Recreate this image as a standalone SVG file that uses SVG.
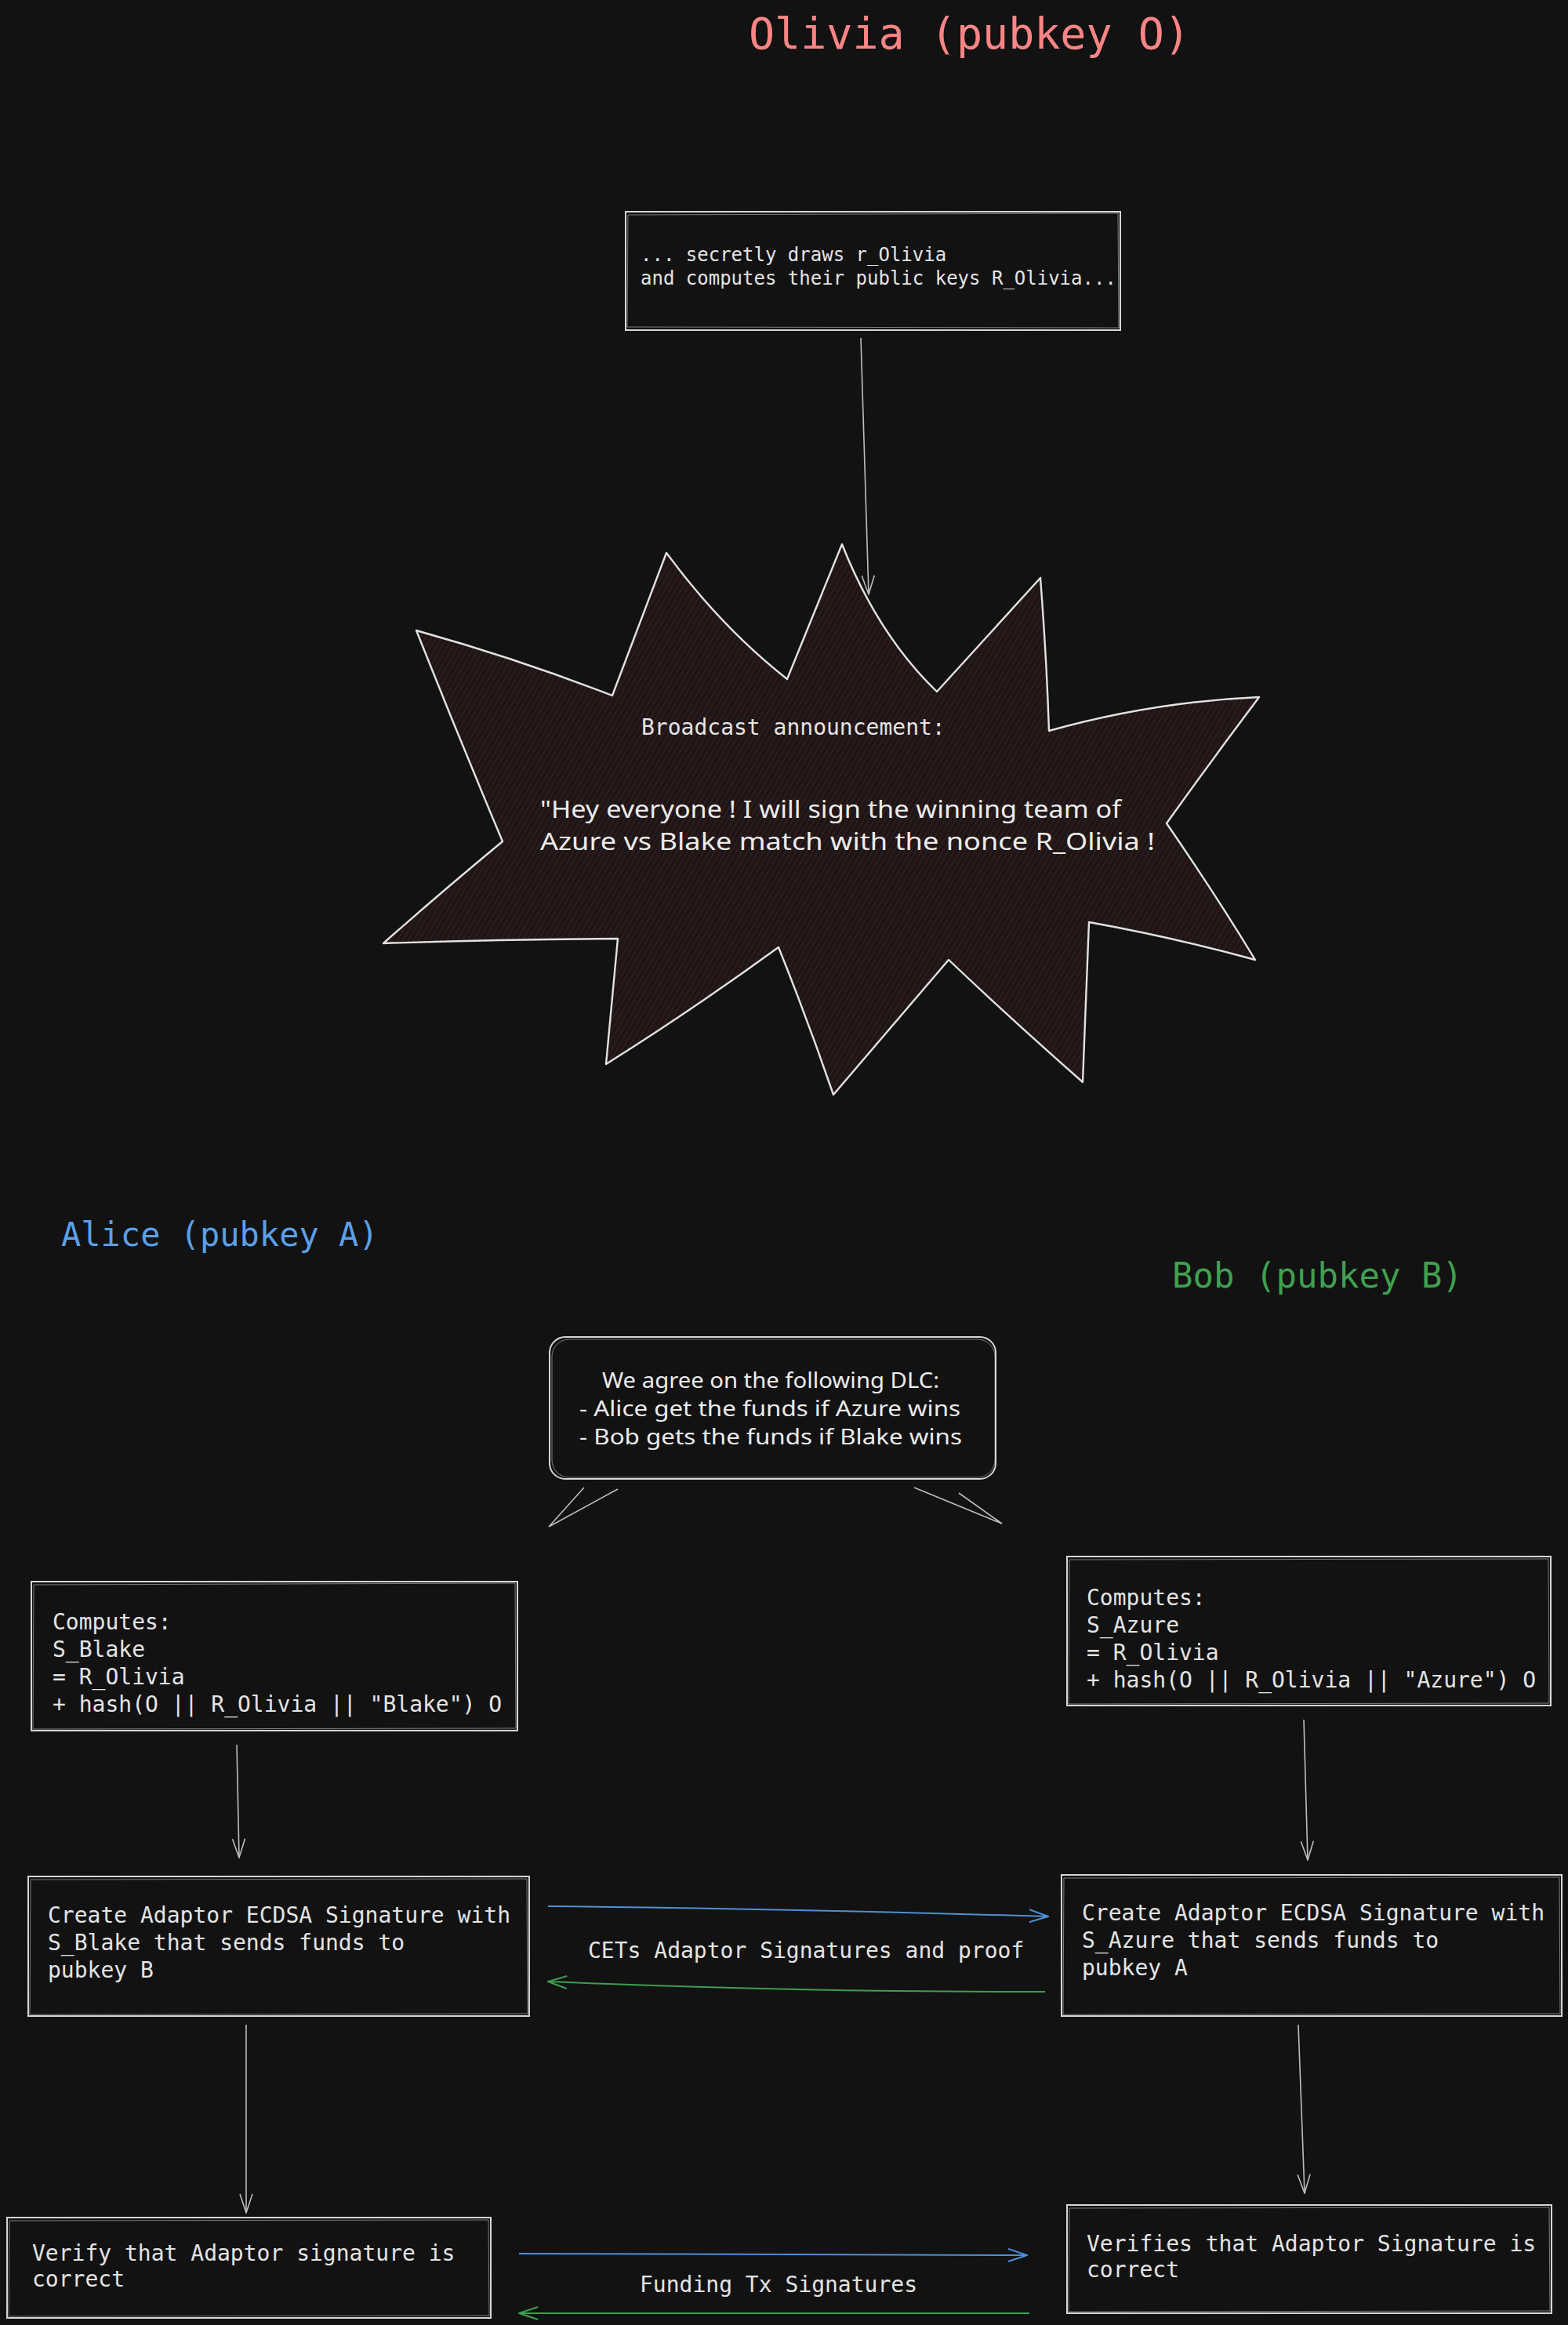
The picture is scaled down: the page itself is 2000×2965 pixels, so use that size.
<svg xmlns="http://www.w3.org/2000/svg" width="2000" height="2965" viewBox="0 0 2000 2965">
<defs>
<style>
.bx{fill:#121212;stroke:#d6d6d6;stroke-width:2}
.bx2{fill:none;stroke:#d6d6d6;stroke-width:1;opacity:0.55}
.mono{font-family:"DejaVu Sans Mono","Liberation Mono",monospace;fill:#e4e4e4}
.hand{font-family:"Noto Sans","Open Sans",sans-serif;fill:#ececec}
.conn{fill:none;stroke:#bdbdbd;stroke-width:1.6}
.blue{fill:none;stroke:#4f8fd6;stroke-width:2}
.green{fill:none;stroke:#3e9e4f;stroke-width:2}
</style>
<marker id="ahg" viewBox="0 0 26 18" refX="25" refY="9" markerWidth="26" markerHeight="18" markerUnits="userSpaceOnUse" orient="auto"><path d="M1,1 L25,9 L1,17" fill="none" stroke="#bdbdbd" stroke-width="1.6"/></marker>
<marker id="ahb" viewBox="0 0 26 18" refX="25" refY="9" markerWidth="26" markerHeight="18" markerUnits="userSpaceOnUse" orient="auto"><path d="M1,1 L25,9 L1,17" fill="none" stroke="#4f8fd6" stroke-width="2"/></marker>
<marker id="ahgr" viewBox="0 0 26 18" refX="25" refY="9" markerWidth="26" markerHeight="18" markerUnits="userSpaceOnUse" orient="auto"><path d="M1,1 L25,9 L1,17" fill="none" stroke="#3e9e4f" stroke-width="2"/></marker>
<pattern id="hatch" width="6" height="6" patternUnits="userSpaceOnUse" patternTransform="rotate(30)">
<rect width="6" height="6" fill="#1e1616"/>
<line x1="0" y1="0" x2="0" y2="6" stroke="#4a2424" stroke-width="1.4"/>
</pattern>
</defs>
<rect width="2000" height="2965" fill="#121212"/>

<g id="title-olivia"><text x="955" y="62" font-family="DejaVu Sans Mono, Liberation Mono, monospace" font-size="55" fill="#ff8585">Olivia (pubkey O)</text></g>
<g id="title-alice"><text x="78" y="1589" font-family="DejaVu Sans Mono, Liberation Mono, monospace" font-size="42" fill="#5ba0e8">Alice (pubkey A)</text></g>
<g id="title-bob"><text x="1495" y="1642" font-family="DejaVu Sans Mono, Liberation Mono, monospace" font-size="44" fill="#40a04f">Bob (pubkey B)</text></g>

<g id="connectors">
<path class="conn" d="M1098,431 Q1103,600 1108,758" marker-end="url(#ahg)"/>
<path class="conn" d="M302,2225 L305,2369" marker-end="url(#ahg)"/>
<path class="conn" d="M1663,2193 L1668,2372" marker-end="url(#ahg)"/>
<path class="conn" d="M314,2582 L314,2822" marker-end="url(#ahg)"/>
<path class="conn" d="M1656,2582 L1664,2797" marker-end="url(#ahg)"/>
<path class="blue" d="M699,2431 Q1000,2434 1337,2444" marker-end="url(#ahb)"/>
<path class="green" d="M1333,2540 Q1000,2540 699,2527" marker-end="url(#ahgr)"/>
<path class="blue" d="M662,2874 L1310,2876" marker-end="url(#ahb)"/>
<path class="green" d="M1313,2950 L662,2950" marker-end="url(#ahgr)"/>
<text class="mono" x="750" y="2497" font-size="28">CETs Adaptor Signatures and proof</text>
<text class="mono" x="816" y="2923" font-size="28">Funding Tx Signatures</text>
</g>

<g id="olivia-secret">
<rect class="bx" x="798" y="270" width="631" height="151"/>
<path class="bx2" d="M801,274 L1426,272 L1427,418 L800,417 Z"/>
<text class="mono" font-size="24" xml:space="preserve"><tspan x="817" y="333">... secretly draws r_Olivia</tspan><tspan x="817" y="363">and computes their public keys R_Olivia...</tspan></text>
</g>

<g id="broadcast">
<path d="M531,804 Q660,840 781,887 L850,705 Q920,800 1004,866 L1074,694 Q1120,810 1195,882 L1327,737 Q1335,840 1338,932 Q1470,895 1606,889 Q1545,970 1488,1050 Q1550,1140 1601,1224 Q1495,1195 1389,1176 L1381,1380 Q1290,1300 1210,1224 L1063,1396 Q1030,1300 993,1208 Q880,1290 773,1357 L788,1197 Q640,1198 489,1203 Q560,1140 641,1073 Q585,940 531,804 Z" fill="url(#hatch)" stroke="#e2e2e2" stroke-width="2.4" stroke-linejoin="round"/>
<text class="mono" x="818" y="937" font-size="28">Broadcast announcement:</text>
<text class="hand" font-size="30"><tspan x="689" y="1043" textLength="741" lengthAdjust="spacingAndGlyphs">"Hey everyone ! I will sign the winning team of</tspan><tspan x="689" y="1084" textLength="784" lengthAdjust="spacingAndGlyphs">Azure vs Blake match with the nonce R_Olivia !</tspan></text>
</g>

<g id="dlc-bubble">
<rect class="bx" x="701" y="1705" width="569" height="181" rx="20"/>
<rect class="bx2" x="704" y="1708" width="565" height="176" rx="22"/>
<path class="conn" d="M745,1897 L700,1947 L788,1899"/>
<path class="conn" d="M1166,1897 L1278,1943 L1223,1904"/>
<text class="hand" font-size="28"><tspan x="768" y="1770" textLength="430" lengthAdjust="spacingAndGlyphs">We agree on the following DLC:</tspan><tspan x="739" y="1806" textLength="486" lengthAdjust="spacingAndGlyphs">- Alice get the funds if Azure wins</tspan><tspan x="739" y="1842" textLength="488" lengthAdjust="spacingAndGlyphs">- Bob gets the funds if Blake wins</tspan></text>
</g>

<g id="alice-computes">
<rect class="bx" x="40" y="2017" width="620" height="190"/>
<path class="bx2" d="M43,2021 L657,2019 L658,2204 L42,2205 Z"/>
<text class="mono" font-size="28" xml:space="preserve"><tspan x="67" y="2078">Computes:</tspan><tspan x="67" y="2113">S_Blake</tspan><tspan x="67" y="2148">= R_Olivia</tspan><tspan x="67" y="2183">+ hash(O || R_Olivia || "Blake") O</tspan></text>
</g>

<g id="bob-computes">
<rect class="bx" x="1361" y="1985" width="617" height="190"/>
<path class="bx2" d="M1364,1989 L1975,1988 L1976,2172 L1363,2173 Z"/>
<text class="mono" font-size="28" xml:space="preserve"><tspan x="1386" y="2047">Computes:</tspan><tspan x="1386" y="2082">S_Azure</tspan><tspan x="1386" y="2117">= R_Olivia</tspan><tspan x="1386" y="2152">+ hash(O || R_Olivia || "Azure") O</tspan></text>
</g>

<g id="alice-create">
<rect class="bx" x="36" y="2393" width="639" height="178"/>
<path class="bx2" d="M39,2397 L672,2396 L673,2568 L38,2569 Z"/>
<text class="mono" font-size="28"><tspan x="61" y="2452">Create Adaptor ECDSA Signature with</tspan><tspan x="61" y="2487">S_Blake that sends funds to</tspan><tspan x="61" y="2522">pubkey B</tspan></text>
</g>

<g id="bob-create">
<rect class="bx" x="1354" y="2391" width="638" height="180"/>
<path class="bx2" d="M1357,2395 L1989,2394 L1990,2568 L1356,2569 Z"/>
<text class="mono" font-size="28"><tspan x="1380" y="2449">Create Adaptor ECDSA Signature with</tspan><tspan x="1380" y="2484">S_Azure that sends funds to</tspan><tspan x="1380" y="2519">pubkey A</tspan></text>
</g>

<g id="alice-verify">
<rect class="bx" x="9" y="2828" width="617" height="128"/>
<path class="bx2" d="M12,2832 L623,2831 L624,2953 L11,2954 Z"/>
<text class="mono" font-size="28"><tspan x="41" y="2883">Verify that Adaptor signature is</tspan><tspan x="41" y="2916">correct</tspan></text>
</g>

<g id="bob-verify">
<rect class="bx" x="1361" y="2812" width="618" height="138"/>
<path class="bx2" d="M1364,2816 L1976,2815 L1977,2947 L1363,2948 Z"/>
<text class="mono" font-size="28"><tspan x="1386" y="2871">Verifies that Adaptor Signature is</tspan><tspan x="1386" y="2904">correct</tspan></text>
</g>
</svg>
